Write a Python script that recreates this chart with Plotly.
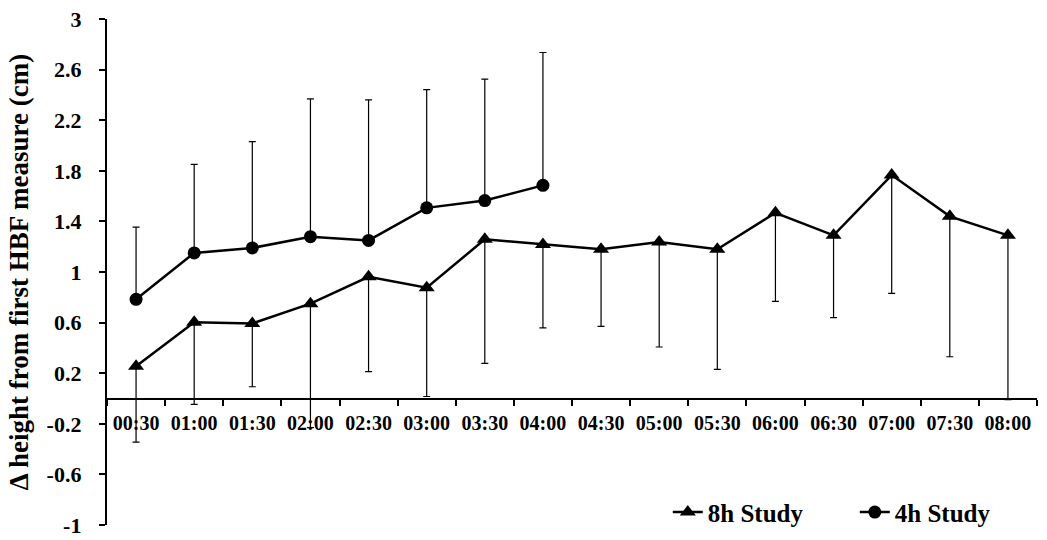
import plotly.graph_objects as go

categories = ["00:30", "01:00", "01:30", "02:00", "02:30", "03:00", "03:30", "04:00",
              "04:30", "05:00", "05:30", "06:00", "06:30", "07:00", "07:30", "08:00"]

h8_values = [0.255, 0.603, 0.593, 0.75, 0.962, 0.876, 1.258, 1.218,
             1.18, 1.237, 1.18, 1.468, 1.29, 1.766, 1.44, 1.29]
h8_err_minus = [0.60, 0.65, 0.50, 0.98, 0.75, 0.86, 0.98, 0.66,
                0.61, 0.83, 0.95, 0.70, 0.65, 0.935, 1.11, 1.30]

h4_categories = categories[:8]
h4_values = [0.784, 1.151, 1.19, 1.279, 1.25, 1.507, 1.565, 1.685]
h4_err_plus = [0.57, 0.70, 0.84, 1.09, 1.11, 0.935, 0.96, 1.05]

y_ticks = [-1, -0.6, -0.2, 0.2, 0.6, 1, 1.4, 1.8, 2.2, 2.6, 3]
y_tick_labels = ["-1", "-0.6", "-0.2", "0.2", "0.6", "1", "1.4", "1.8", "2.2", "2.6", "3"]

FONT = "Liberation Serif, Times New Roman, serif"

fig = go.Figure()

fig.add_trace(go.Scatter(
    x=categories, y=h8_values, name="8h Study", mode="lines+markers",
    line=dict(color="black", width=2.5),
    marker=dict(symbol="triangle-up", size=14, color="black"),
    error_y=dict(type="data", symmetric=False, array=[0] * len(h8_values),
                 arrayminus=h8_err_minus, color="black", thickness=1.2, width=3.5),
))

fig.add_trace(go.Scatter(
    x=h4_categories, y=h4_values, name="4h Study", mode="lines+markers",
    line=dict(color="black", width=2.5),
    marker=dict(symbol="circle", size=13, color="black"),
    error_y=dict(type="data", symmetric=False, array=h4_err_plus,
                 arrayminus=[0] * len(h4_values), color="black", thickness=1.2, width=3.5),
))

fig.update_layout(
    width=1047, height=540,
    margin=dict(l=107, r=5, t=19, b=12),
    paper_bgcolor="white", plot_bgcolor="white",
    font=dict(family=FONT, color="black"),
    showlegend=True,
    legend=dict(orientation="h", x=0.603, xanchor="left", y=0.025, yanchor="middle",
                font=dict(family=FONT, size=25, color="black", weight="bold"),
                bgcolor="rgba(0,0,0,0)", entrywidth=142, tracegroupgap=0,
                itemwidth=30),
    xaxis=dict(
        type="category", categoryorder="array", categoryarray=categories,
        range=[-0.5, 15.5],
        anchor="free", position=0.25,
        showline=True, linecolor="black", linewidth=2.3,
        ticks="outside", ticklen=6, tickwidth=2, tickcolor="black",
        tickson="boundaries", ticklabelstandoff=6,
        showgrid=False, zeroline=False, automargin=False,
        tickfont=dict(family=FONT, size=20, color="black", weight="bold"),
    ),
    yaxis=dict(
        range=[-1, 3], tickvals=y_ticks, ticktext=y_tick_labels,
        showline=True, linecolor="black", linewidth=2.3,
        ticks="outside", ticklen=6, tickwidth=2, tickcolor="black",
        ticklabelstandoff=13,
        showgrid=False, zeroline=False, automargin=False,
        tickfont=dict(family=FONT, size=22, color="black", weight="bold"),
        title=dict(text="Δ height from first HBF measure (cm)", standoff=10,
                   font=dict(family=FONT, size=27, color="black", weight="bold")),
    ),
)

fig.write_html("out.html", config={"displayModeBar": False},
               post_script="document.body.style.margin='0';")
